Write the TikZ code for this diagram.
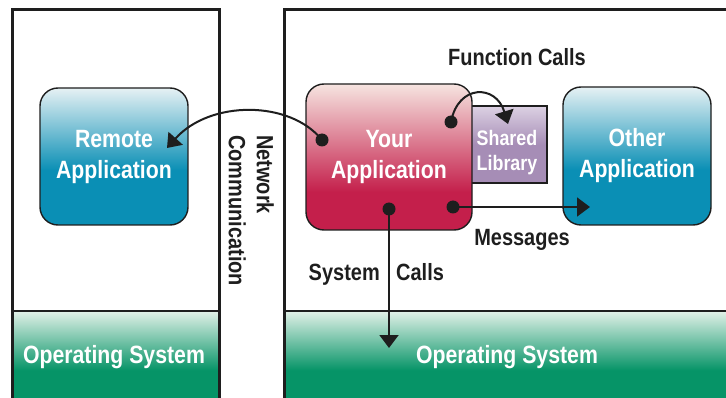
\documentclass[tikz,border=0pt]{standalone}
\usepackage{fontspec}
\setmainfont{Liberation Sans}[FakeStretch=0.85]
\usetikzlibrary{arrows.meta}
\definecolor{tealD}{HTML}{0A8FB5}
\definecolor{tealL}{HTML}{E6F1F4}
\definecolor{redD}{HTML}{C41F4B}
\definecolor{redL}{HTML}{F6E4E0}
\definecolor{purD}{HTML}{A68DB6}
\definecolor{purL}{HTML}{DCD1E3}
\definecolor{grnD}{HTML}{069467}
\definecolor{grnL}{HTML}{E2F1E8}
\definecolor{ink}{HTML}{1E1E1E}
\pgfdeclareverticalshading{tealsh}{100bp}{color(0bp)=(tealD); color(25bp)=(tealD); color(45bp)=(tealD); color(75bp)=(tealL); color(100bp)=(tealL)}
\pgfdeclareverticalshading{redsh}{100bp}{color(0bp)=(redD); color(25bp)=(redD); color(38bp)=(redD); color(75bp)=(redL); color(100bp)=(redL)}
\pgfdeclareverticalshading{pursh}{100bp}{color(0bp)=(purD); color(25bp)=(purD); color(50bp)=(purD); color(75bp)=(purL); color(100bp)=(purL)}
\pgfdeclareverticalshading{grnsh}{100bp}{color(0bp)=(grnD); color(25bp)=(grnD); color(45bp)=(grnD); color(75bp)=(grnL); color(100bp)=(grnL)}
\begin{document}
\begin{tikzpicture}[x=1pt,y=-1pt,
  frame/.style={draw=ink, line width=3pt},
  appbox/.style={draw=ink, line width=1.4pt, rounded corners=18pt, text=white, align=center,
     font=\fontsize{25}{31}\selectfont\bfseries, inner sep=0pt},
  libbox/.style={draw=ink, line width=1.4pt, inner sep=0pt},
  boxtext/.style={text=white, align=center, inner sep=0pt},
  lbl/.style={text=ink, font=\fontsize{23.5}{28}\selectfont\bfseries, inner sep=0pt},
  conn/.style={draw=ink, line width=2pt, -{Triangle[length=13pt,width=19pt]}},
  dotc/.style={fill=ink}
]
\useasboundingbox (0,0) rectangle (726,398);
\begin{scope}
\clip (0,0) rectangle (726,398);
% operating system bands
\shade[shading=grnsh] (12,311) rectangle (219,410);
\shade[shading=grnsh] (284,311) rectangle (740,410);
\draw[ink, line width=1.5pt] (12,311) -- (219,311);
\draw[ink, line width=1.5pt] (284,311) -- (740,311);
% outer frames
\draw[frame] (12,410) -- (12,10) -- (219,10) -- (219,410);
\draw[frame] (284,410) -- (284,10) -- (740,10);
\end{scope}
\node[text=white, font=\fontsize{25}{31}\selectfont\bfseries, inner sep=0pt] (os1) at (114,357) {Operating System};
\node[text=white, font=\fontsize{25}{31}\selectfont\bfseries, inner sep=0pt] (os2) at (507,357) {Operating System};
% boxes
\node[appbox, shading=tealsh, minimum width=148pt, minimum height=137pt] (remote) at (114,156.5) {Remote\\Application};
\node[libbox, shading=pursh, minimum width=76pt, minimum height=77pt] (lib) at (509,144.5) {};
\node[boxtext, font=\fontsize{21}{25}\selectfont\bfseries] (libtext) at (507,153) {Shared\\Library};
\node[appbox, shading=redsh, minimum width=166pt, minimum height=146pt] (your) at (389,157) {Your\\Application};
\node[appbox, shading=tealsh, minimum width=148pt, minimum height=138pt] (other) at (637,156) {Other\\Application};
% labels
\node[lbl, anchor=base] (fc) at (517,66) {Function Calls};
\node[lbl, anchor=base] (msg) at (522,246) {Messages};
\node[lbl, anchor=base east] (sys) at (380,280) {System};
\node[lbl, anchor=base west] (calls) at (396,280) {Calls};
\node[lbl, rotate=-90, anchor=north west, align=left, font=\fontsize{23.5}{28}\selectfont\bfseries] (net) at (274,135) {Network\\Communication};
% connector points
\coordinate (dNet) at (322,140);
\coordinate (dLib) at (451,122);
\coordinate (dMsg) at (453,207);
\coordinate (dSys) at (389,209);
\coordinate (tRemote) at (167,148);
\coordinate (tLib) at (508,124);
\coordinate (tOther) at (590,207);
\coordinate (tOS) at (389,348);
% connectors
\draw[conn] (dNet) .. controls (290,100) and (210,100) .. (tRemote);
\draw[conn] (dLib) .. controls (458,84) and (496,84) .. (tLib);
\draw[conn] (dMsg) -- (tOther);
\draw[conn] (dSys) -- (tOS);
\foreach \p in {dNet,dLib,dMsg,dSys} \fill[dotc] (\p) circle (6.5pt);
\end{tikzpicture}
\end{document}
